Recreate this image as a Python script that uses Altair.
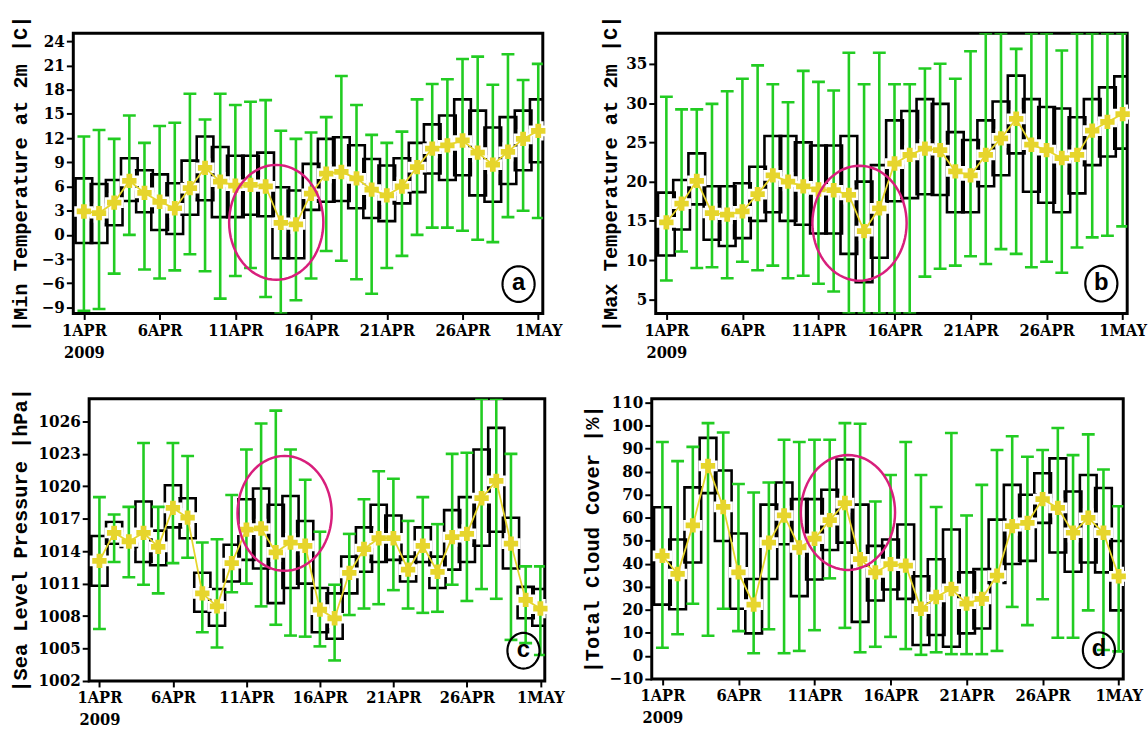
import json
import numpy as np
import pandas as pd
import altair as alt

# ---------------- data ----------------
DAYS = list(range(31))  # 1 APR 2009 ... 1 MAY 2009
TICK_DAYS = [0, 5, 10, 15, 20, 25, 30]
TICK_LABELS = [["1APR", "2009"], "6APR", "11APR", "16APR", "21APR", "26APR", "1MAY"]

# (a) Min temperature at 2m [C]
A_HI = [12.2, 13.0, 11.9, 14.8, 11.4, 13.5, 13.9, 17.5, 14.3, 17.5, 16.1, 16.5, 16.7, 12.9, 11.9,
        12.7, 14.6, 19.7, 16.1, 12.4, 11.4, 12.8, 16.8, 18.7, 19.3, 21.8, 22.1, 18.6, 22.4, 19.2, 21.2]
A_Q3 = [7.0, 6.3, 6.8, 9.5, 8.0, 7.5, 6.4, 9.2, 12.2, 10.9, 9.8, 9.8, 10.2, 5.9, 5.5,
        8.8, 11.9, 12.1, 11.1, 9.4, 8.6, 9.5, 11.4, 13.7, 14.8, 16.8, 15.4, 13.3, 14.6, 15.4, 16.8]
A_MED = [2.9, 2.7, 4.0, 6.7, 5.2, 4.1, 3.3, 5.8, 8.3, 6.6, 6.1, 6.2, 6.0, 1.5, 1.3,
         5.1, 7.6, 7.8, 7.0, 5.6, 4.9, 6.0, 8.4, 10.7, 11.1, 11.7, 10.2, 8.7, 10.3, 11.9, 12.9]
A_Q1 = [-1.0, -1.0, 1.2, 4.2, 2.8, 0.6, 0.1, 2.5, 4.3, 2.2, 2.2, 2.5, 2.3, -2.9, -2.9,
        3.1, 4.1, 4.2, 3.3, 2.1, 1.7, 3.9, 5.3, 7.6, 6.8, 7.4, 4.9, 4.1, 6.3, 8.0, 9.0]
A_LO = [-9.4, -9.2, -4.8, 0.0, -4.3, -5.4, -4.4, -2.4, -4.5, -7.9, -5.1, -4.1, -7.7, -11.0, -8.1,
        -5.4, -2.0, -3.2, -5.5, -7.3, -4.1, -2.6, 0.0, 0.9, 0.9, 0.5, -0.6, -0.9, 2.2, 3.0, 2.1]

# (b) Max temperature at 2m [C]
B_HI = [30.8, 29.2, 29.2, 29.9, 31.5, 33.1, 34.8, 32.4, 30.1, 34.1, 32.7, 31.6, 36.4, 32.4, 36.4,
        32.4, 32.4, 34.4, 35.0, 33.1, 36.6, 41.0, 41.0, 36.9, 41.0, 41.0, 36.7, 41.0, 41.0, 41.0, 41.0]
B_Q3 = [18.6, 20.2, 23.6, 19.4, 19.4, 19.8, 21.9, 25.8, 25.8, 25.0, 24.6, 24.6, 25.8, 20.0, 22.1,
        27.8, 29.0, 30.5, 29.9, 26.3, 25.3, 27.8, 30.2, 33.5, 30.5, 29.5, 29.3, 28.2, 30.5, 32.0, 33.4]
B_MED = [14.8, 17.2, 20.1, 16.0, 15.8, 16.2, 18.4, 20.8, 20.0, 19.4, 19.0, 18.9, 18.3, 13.7, 16.6,
         22.3, 23.4, 24.2, 24.0, 21.3, 20.8, 23.4, 25.5, 28.0, 24.7, 24.0, 23.0, 23.4, 26.5, 27.6, 28.6]
B_Q1 = [10.6, 13.9, 17.1, 12.6, 11.8, 12.8, 15.0, 16.1, 15.0, 14.5, 13.4, 13.4, 10.8, 7.2, 10.3,
        17.5, 17.9, 18.4, 18.3, 16.1, 16.1, 19.4, 20.8, 23.6, 18.7, 17.3, 16.1, 18.5, 22.1, 23.2, 24.2]
B_LO = [7.4, 11.1, 9.0, 9.1, 7.7, 9.8, 8.7, 9.3, 7.7, 8.0, 7.0, 6.0, 1.0, 1.0, 1.0,
        1.0, 1.0, 7.9, 8.9, 9.3, 10.5, 9.5, 11.4, 10.8, 9.1, 9.8, 8.4, 11.6, 12.9, 13.1, 14.3]

# (c) Sea level pressure [hPa]
C_HI = [1019.0, 1017.4, 1018.1, 1024.0, 1018.1, 1024.0, 1022.8, 1014.8, 1015.1, 1019.2, 1023.4,
        1025.8, 1027.0, 1023.4, 1020.6, 1015.8, 1010.9, 1015.6, 1018.8, 1021.4, 1020.7, 1016.8,
        1019.0, 1016.5, 1023.0, 1023.1, 1029.5, 1029.5, 1023.0, 1012.6, 1012.6]
C_Q3 = [1015.4, 1016.7, 1015.3, 1018.6, 1015.9, 1020.1, 1018.9, 1012.0, 1010.5, 1014.6, 1018.8,
        1019.8, 1018.3, 1019.1, 1016.8, 1010.6, 1010.1, 1013.5, 1016.2, 1018.3, 1017.3, 1013.5,
        1016.2, 1013.5, 1017.8, 1019.0, 1023.4, 1025.4, 1017.1, 1010.7, 1010.5]
C_MED = [1013.1, 1015.7, 1014.9, 1015.7, 1014.4, 1018.0, 1017.1, 1010.1, 1008.9, 1012.9, 1016.0,
         1016.1, 1013.9, 1014.8, 1014.5, 1008.6, 1007.8, 1012.0, 1014.2, 1015.2, 1015.2, 1012.3,
         1014.5, 1012.1, 1015.3, 1015.6, 1018.9, 1020.5, 1014.7, 1009.5, 1008.7]
C_Q1 = [1010.8, 1014.7, 1014.4, 1013.0, 1012.7, 1016.2, 1015.2, 1008.4, 1007.1, 1011.2, 1013.2,
        1012.4, 1009.2, 1010.6, 1011.0, 1006.5, 1005.9, 1010.1, 1012.1, 1013.0, 1013.2, 1011.2,
        1013.0, 1010.6, 1012.3, 1013.0, 1014.5, 1015.8, 1012.4, 1007.8, 1007.1]
C_LO = [1006.8, 1013.0, 1011.6, 1010.9, 1010.1, 1012.9, 1013.4, 1006.5, 1005.1, 1010.2, 1011.0,
        1008.9, 1007.2, 1006.2, 1006.1, 1005.2, 1003.9, 1008.1, 1008.7, 1009.1, 1010.4, 1008.7,
        1008.3, 1008.4, 1010.9, 1009.4, 1010.5, 1009.6, 1005.8, 1005.5, 1004.4]

# (d) Total cloud cover [%]
D_HI = [92.9, 84.6, 90.8, 101.1, 97.0, 74.7, 71.0, 75.3, 93.9, 92.9, 93.9, 93.9, 101.1, 100.8, 67.1,
        78.6, 92.9, 78.6, 64.7, 96.8, 61.0, 74.3, 89.4, 95.4, 86.5, 89.4, 99.0, 87.2, 96.2, 81.0, 65.0]
D_Q3 = [64.6, 50.6, 73.2, 94.7, 80.5, 53.2, 33.4, 65.7, 75.3, 68.1, 68.1, 72.2, 85.3, 65.7, 47.8,
        50.6, 57.1, 34.6, 42.0, 54.9, 36.3, 37.7, 59.2, 74.3, 70.0, 79.3, 85.8, 71.4, 78.6, 72.9, 49.9]
D_MED = [43.5, 35.6, 56.7, 82.5, 64.7, 36.3, 22.3, 49.2, 61.0, 47.1, 50.9, 59.0, 66.4, 42.0, 36.3,
         39.9, 39.2, 20.5, 25.6, 29.1, 22.7, 24.8, 34.9, 56.4, 57.8, 68.1, 64.3, 53.5, 60.0, 53.5, 34.6]
D_Q1 = [22.3, 20.3, 40.6, 70.7, 49.9, 20.5, 9.8, 33.4, 48.5, 26.0, 33.2, 46.0, 49.2, 14.8, 24.1,
        28.9, 24.8, 4.8, 9.1, 4.0, 9.8, 11.9, 31.7, 39.9, 41.3, 57.8, 44.9, 36.6, 40.6, 36.3, 19.8]
D_LO = [3.6, 9.4, 22.7, 8.8, 20.5, 10.8, 1.2, 11.6, 1.2, 2.2, 11.2, 33.7, 12.2, 1.6, 4.0,
        8.3, 3.0, 0.5, 1.6, 0.8, 0.8, 0.8, 2.2, 21.3, 13.4, 24.6, 7.9, 7.9, 19.8, 2.6, 2.0]

# highlighted episode (ellipse centre: day, value) and panel letter position
ELL_A, LAB_A = (12.7, 1.55), (28.7, -6.1)
ELL_B, LAB_B = (12.7, 14.7), (28.6, 7.0)
ELL_C, LAB_C = (12.6, 1017.5), (28.85, 1004.8)
ELL_D, LAB_D = (12.2, 62.3), (28.7, 2.5)

# ---------------- style ----------------
GREEN = "#22cc22"
YELLOW = "#e6d52c"
MAGENTA = "#d81f7c"
LABEL_FONT = "DejaVu Serif Condensed, DejaVu Serif, serif"
TITLE_FONT = "Liberation Mono, DejaVu Sans Mono, monospace"

LABEL_EXPR = json.dumps(TICK_LABELS) + "[round(datum.value / 5)]"


def ellipse_path(ax, ay, n=72):
    t = np.linspace(0, 2 * np.pi, n, endpoint=False)
    pts = [f"{ax * np.cos(a):.4f} {ay * np.sin(a):.4f}" for a in t]
    return "M " + " L ".join(pts) + " Z"


ELL_SHAPE = ellipse_path(0.82, 1.0)
LAB_SHAPE = ellipse_path(0.9, 1.0)


def panel(hi, q3, med, q1, lo, ydom, yticks, ytitle, ell, lab, letter, w, h, ext, tpad):
    df = pd.DataFrame({"day": DAYS, "hi": hi, "q3": q3, "med": med, "q1": q1, "lo": lo})
    xsc = alt.Scale(domain=[-0.7, 30.3], nice=False, zero=False)
    ysc = alt.Scale(domain=ydom, nice=False, zero=False, clamp=True)
    xax = alt.Axis(values=TICK_DAYS, labelExpr=LABEL_EXPR, title=None, grid=False,
                   domain=False, ticks=True, tickSize=6, tickWidth=2, tickColor="black",
                   labelPadding=3, labelFont=LABEL_FONT, labelFontSize=16.5,
                   labelFontWeight="bold", labelLineHeight=22, labelOverlap=False,
                   labelColor="black", labelAngle=0)
    yax = alt.Axis(values=yticks, format="d", title=ytitle, grid=False,
                   domain=False, tickSize=7, tickWidth=2, tickColor="black", labelPadding=2,
                   labelFont=LABEL_FONT, labelFontSize=17, labelFontWeight="bold",
                   labelColor="black", labelOverlap=False, minExtent=ext, maxExtent=ext,
                   titleFont=TITLE_FONT, titleFontSize=20.5, titleFontWeight="bold",
                   titleColor="black", titlePadding=tpad)

    def X(f):
        return alt.X(f, type="quantitative", scale=xsc, axis=xax)

    def Y(f):
        return alt.Y(f, type="quantitative", scale=ysc, axis=yax)

    base = alt.Chart(df)
    boxes = base.transform_calculate(
        b0="datum.day - 0.55", b1="datum.day + 0.55"
    ).mark_rect(fill="white", fillOpacity=0, stroke="black", strokeWidth=2.6, clip=True).encode(
        x=X("b0"), x2=alt.X2("b1"), y=Y("q1"), y2=alt.Y2("q3"))
    halo = base.mark_point(shape="cross", filled=True, fill="white", stroke="white",
                           strokeWidth=5, size=210, opacity=1).encode(x=X("day"), y=Y("med"))
    whisk = base.mark_rule(color=GREEN, strokeWidth=2.6, clip=True).encode(
        x=X("day"), y=Y("lo"), y2=alt.Y2("hi"))
    cap_hi = base.mark_tick(color=GREEN, orient="horizontal", size=13, thickness=2.6,
                            clip=True, opacity=1).encode(x=X("day"), y=Y("hi"))
    cap_lo = base.mark_tick(color=GREEN, orient="horizontal", size=13, thickness=2.6,
                            clip=True, opacity=1).encode(x=X("day"), y=Y("lo"))
    line = base.mark_line(color=YELLOW, strokeWidth=1.8).encode(x=X("day"), y=Y("med"))
    cross = base.mark_point(shape="cross", filled=True, fill=YELLOW, strokeWidth=0,
                            size=210, opacity=1).encode(x=X("day"), y=Y("med"))

    edf = pd.DataFrame({"day": [ell[0]], "v": [ell[1]]})
    ellipse = alt.Chart(edf).mark_point(shape=ELL_SHAPE, size=13456, filled=False,
                                        stroke=MAGENTA, strokeWidth=2.5, opacity=1).encode(
        x=X("day"), y=Y("v"))
    ldf = pd.DataFrame({"day": [lab[0]], "v": [lab[1]], "t": [letter]})
    lab_circ = alt.Chart(ldf).mark_point(shape=LAB_SHAPE, size=1296, filled=False,
                                         stroke="black", strokeWidth=2.2, opacity=1).encode(
        x=X("day"), y=Y("v"))
    lab_txt = alt.Chart(ldf).mark_text(font="Liberation Sans", fontWeight="bold", fontSize=24,
                                       baseline="middle", align="center", dy=-1,
                                       color="black").encode(x=X("day"), y=Y("v"), text="t:N")

    return alt.layer(boxes, halo, whisk, cap_hi, cap_lo, line, cross, ellipse, lab_circ,
                     lab_txt).properties(width=w, height=h)


def spacer():
    # invisible 1px cell so that both rows start at their left bounds
    return alt.Chart(pd.DataFrame({"s": [0]})).mark_point(size=1, opacity=0).encode(
        x=alt.value(0), y=alt.value(0)
    ).properties(width=1, height=1, view=alt.ViewBackground(stroke="transparent"))


pa = panel(A_HI, A_Q3, A_MED, A_Q1, A_LO, [-9.75, 25.0], list(range(-9, 25, 3)),
           "|Min Temperature at 2m |C|", ELL_A, LAB_A, "a", 474, 283, 35, 8)
pb = panel(B_HI, B_Q3, B_MED, B_Q1, B_LO, [3.2, 38.9], list(range(5, 36, 5)),
           "|Max Temperature at 2m |C|", ELL_B, LAB_B, "b", 476, 283, 30, 6)
pc = panel(C_HI, C_Q3, C_MED, C_Q1, C_LO, [1002.0, 1028.1], list(range(1002, 1027, 3)),
           "|Sea Level Pressure |hPa|", ELL_C, LAB_C, "c", 460, 285, 48, 11)
pd_ = panel(D_HI, D_Q3, D_MED, D_Q1, D_LO, [-10.0, 111.7], list(range(-10, 111, 10)),
            "|Total Cloud Cover |%|", ELL_D, LAB_D, "d", 476, 283, 39, 11)

top = alt.hconcat(alt.hconcat(spacer(), pa, spacing=0), pb, spacing=35)
bottom = alt.hconcat(alt.hconcat(spacer(), pc, spacing=0), pd_, spacing=14)
chart = alt.concat(top, bottom, columns=1, align="none", spacing=24).properties(
    padding={"left": 4, "top": 10, "right": 0, "bottom": 2},
    background="white",
).configure_view(stroke="black", strokeWidth=3)

chart.save("out.html", embed_options={"renderer": "svg", "actions": False})
